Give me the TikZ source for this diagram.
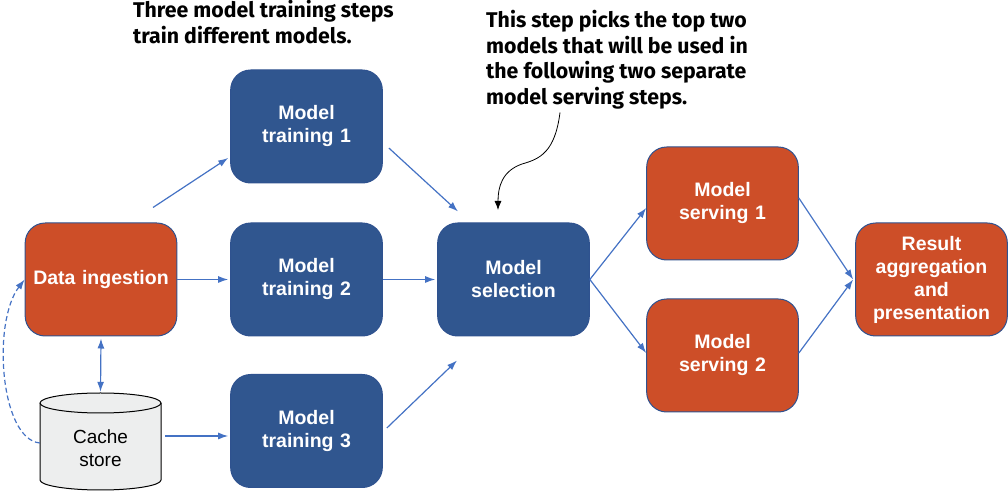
\documentclass[tikz,border=0pt]{standalone}
\usepackage{fontspec}
\setmainfont{Liberation Sans}
\newfontfamily\notefont{Fira Sans}
\usetikzlibrary{arrows.meta}
\definecolor{stepblue}{HTML}{30568F}
\definecolor{steporange}{HTML}{CD4E28}
\definecolor{flowblue}{HTML}{4472C4}
\definecolor{edgeblue}{HTML}{2F528F}
\definecolor{cachegray}{HTML}{EDEEEE}
\tikzset{
  stepbox/.style={rounded corners=20pt, draw=edgeblue, line width=1pt,
    minimum width=149pt, minimum height=113pt, text width=145pt, align=center,
    text=white, font=\bfseries\fontsize{19.5}{23}\selectfont},
  bluestep/.style={stepbox, fill=stepblue},
  orangestep/.style={stepbox, fill=steporange},
  flow/.style={draw=flowblue, line width=1.2pt, -{Latex[length=10pt,width=7pt]}},
  note/.style={align=left, inner sep=0pt, anchor=north west,
    font=\notefont\bfseries\fontsize{21.3}{25.7}\selectfont}
}
\begin{document}
\begin{tikzpicture}[x=1pt,y=1pt]
  \useasboundingbox (0,0) rectangle (1008,497);
  % steps
  \node[orangestep] (ingest) at (101,217.5) {Data ingestion};
  \node[bluestep] (train1) at (306.5,370.5) {Model\\training 1};
  \node[bluestep] (train2) at (306.5,217.5) {Model\\training 2};
  \node[bluestep] (train3) at (306.5,66) {Model\\training 3};
  \node[bluestep] (select) at (513.5,217.5) {Model\\selection};
  \node[orangestep] (serve1) at (722.5,293.5) {Model\\serving 1};
  \node[orangestep] (serve2) at (722.5,141.5) {Model\\serving 2};
  \node[orangestep] (result) at (931.5,217.5) {Result\\aggregation\\and\\presentation};
  % cache store
  \node[minimum width=121pt, minimum height=97pt, inner sep=0pt] (cache) at (100.5,55.5) {};
  \draw[fill=cachegray, line width=1pt] (40,94) -- (40,17)
    arc[start angle=180, end angle=360, x radius=60.5, y radius=10] -- (161,94)
    arc[start angle=0, end angle=180, x radius=60.5, y radius=10] -- cycle;
  \draw[line width=1pt] (40,94) arc[start angle=180, end angle=360, x radius=60.5, y radius=10];
  \node[font=\fontsize{19}{23}\selectfont, align=center] (cachetext) at (100.5,48.5) {Cache\\store};
  % notes
  \node[note] (note1) at (133,497) {Three model training steps\\train different models.};
  \node[note] (note2) at (486,487) {This step picks the top two\\models that will be used in\\the following two separate\\model serving steps.};
  % flows
  \draw[flow] ([xshift=52pt,yshift=15pt]ingest.north) -- ([xshift=-2pt,yshift=-31.5pt]train1.west);
  \draw[flow] (ingest.east) -- ([xshift=-2pt]train2.west);
  \draw[flow, {Latex[length=10pt,width=7pt]}-{Latex[length=10pt,width=7pt]}] ([yshift=-2pt]ingest.south) -- ([yshift=1pt]cache.north);
  \draw[flow] ([xshift=4pt,yshift=5.5pt]cache.east) -- ([xshift=-2pt,yshift=-5pt]train3.west);
  \draw[flow] ([xshift=6pt,yshift=-21.5pt]train1.east) -- ([xshift=-55.5pt,yshift=11pt]select.north);
  \draw[flow] (train2.east) -- ([xshift=-2pt]select.west);
  \draw[flow] ([xshift=4pt,yshift=3pt]train3.east) -- ([xshift=-56.5pt,yshift=-24pt]select.south);
  \draw[flow] (select.east) -- ([yshift=-4.5pt]serve1.west);
  \draw[flow] (select.east) -- ([yshift=2.5pt]serve2.west);
  \draw[flow] ([yshift=5.5pt]serve1.east) -- ([xshift=-2pt]result.west);
  \draw[flow] ([yshift=2.5pt]serve2.east) -- ([xshift=-2pt]result.west);
  \draw[flow, dashed, dash pattern=on 5pt off 3pt] ([yshift=-1.5pt]cache.west)
    .. controls (0,58) and (-8,175) .. (ingest.west);
  % pointer from the note
  \draw[line width=0.8pt, -{Latex[length=9pt,width=7pt]}] ([xshift=74pt,yshift=-3pt]note2.south west)
    .. controls (555,345) and (540,338) .. (522,333)
    .. controls (502,326) and (498,310) .. (498,287);
\end{tikzpicture}
\end{document}
